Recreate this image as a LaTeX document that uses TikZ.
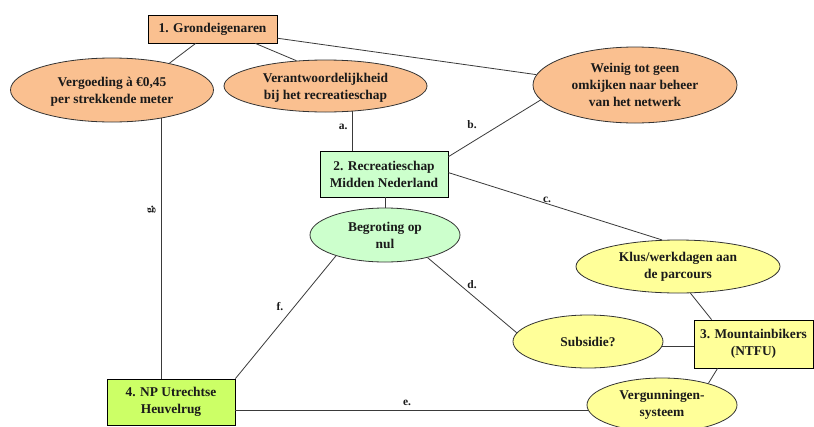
\documentclass[tikz,border=0pt]{standalone}
\usepackage{fontspec}
\setmainfont{Liberation Serif}
\usetikzlibrary{shapes.geometric,calc}
\definecolor{orangefill}{HTML}{FAC090}
\definecolor{greenfill}{HTML}{CCFFCC}
\definecolor{limefill}{HTML}{CCFF66}
\definecolor{yellowfill}{HTML}{FFFF99}
\definecolor{edgecol}{HTML}{3A3A3A}
\definecolor{textcol}{HTML}{1A1A1A}
\tikzset{
  txt/.style={font=\bfseries\fontsize{13.4}{17}\selectfont, text=textcol, align=center, inner sep=0pt},
  boxnode/.style={txt, draw=black, line width=0.8pt, rectangle},
  ellnode/.style={txt, draw=black!80, line width=0.8pt, ellipse},
  conn/.style={draw=edgecol, line width=0.8pt},
  lbl/.style={font=\bfseries\fontsize{11.5}{12}\selectfont, text=textcol, inner sep=0pt}
}
\begin{document}
\begin{tikzpicture}[x=1pt,y=-1pt]
\useasboundingbox (0,0) rectangle (814,426);
\clip (0,0) rectangle (814,426);
\fill[white] (0,0) rectangle (814,426);
% nodes
\node[boxnode, fill=orangefill, minimum width=129pt, minimum height=28pt] (n1) at (212.5,29) {1. Grondeigenaren};
\node[ellnode, fill=orangefill, minimum width=203pt, minimum height=64pt, text depth=-6pt] (e1) at (112,90) {Vergoeding à €0,45\\per strekkende meter};
\node[ellnode, fill=orangefill, minimum width=203pt, minimum height=52pt, text depth=-3pt] (e2) at (325.5,86) {Verantwoordelijkheid\\bij het recreatieschap};
\node[ellnode, fill=orangefill, minimum width=204pt, minimum height=76pt] (e3) at (635,85) {Weinig tot geen\\omkijken naar beheer\\van het netwerk};
\node[boxnode, fill=greenfill, minimum width=128pt, minimum height=46pt] (n2) at (384,174) {2. Recreatieschap\\Midden Nederland};
\node[ellnode, fill=greenfill, minimum width=150pt, minimum height=54pt] (e4) at (385,235) {Begroting op\\nul};
\node[ellnode, fill=yellowfill, minimum width=204pt, minimum height=53pt] (e5) at (678,266.5) {Klus/werkdagen aan\\de parcours};
\node[ellnode, fill=yellowfill, minimum width=150pt, minimum height=53pt] (e6) at (588,341.5) {Subsidie?};
\node[boxnode, fill=yellowfill, minimum width=119pt, minimum height=48pt] (n3) at (753.5,344) {3. Mountainbikers\\(NTFU)};
\node[ellnode, fill=yellowfill, minimum width=150pt, minimum height=54pt] (e7) at (662,405) {Vergunningen-\\systeem};
\node[boxnode, fill=limefill, minimum width=128pt, minimum height=46pt] (n4) at (171,402) {4. NP Utrechtse\\Heuvelrug};
% connectors
\path[conn] ($(n1.south west)!0.37!(n1.south east)$) -- (e1.25);
\path[conn] ($(n1.south west)!0.83!(n1.south east)$) -- (e2.139);
\path[conn] ($(n1.north east)!0.82!(n1.south east)$) -- (e3.174);
\path[conn] (e1.-30.4) -- (e1.-30.4 |- n4.north) node[lbl, pos=0.35, left=5pt, rotate=90, anchor=south] (lg) {g.};
\path[conn] (e2.-43.4) -- (e2.-43.4 |- n2.north) node[lbl, pos=0.4, left=5pt] (la) {a.};
\path[conn] ($(n2.north east)!0.13!(n2.south east)$) -- (e3.189.3);
\path[conn] ($(n2.north east)!0.47!(n2.south east)$) -- (e5.121.4);
\path[conn] (e4.north |- n2.south) -- (e4.north);
\path[conn] (e4.203.2) -- (n4.north east);
\path[conn] (e4.-28.2) -- (e6.173.4);
\path[conn] (e6.-4) -- (e6.-4 -| n3.west);
\path[conn] (e5.-65.5) -- ($(n3.north west)!0.15!(n3.north east)$);
\path[conn] ($(n3.south west)!0.2!(n3.south east)$) -- (e7.25.9);
\path[conn] (n4.east |- e7.184.4) -- (e7.184.4);
% labels
\node[lbl] (lb) at (472,125) {b.};
\node[lbl] (lc) at (547,200) {c.};
\node[lbl] (ld) at (472,285) {d.};
\node[lbl] (le) at (407,403) {e.};
\node[lbl] (lf) at (280,307) {f.};
\end{tikzpicture}
\end{document}
